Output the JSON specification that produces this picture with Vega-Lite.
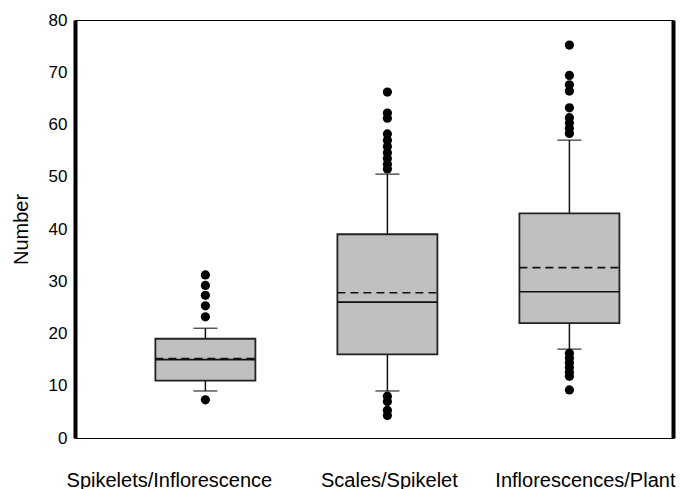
{
  "$schema": "https://vega.github.io/schema/vega-lite/v6.json",
  "width": 598,
  "height": 418,
  "autosize": {"type": "none"},
  "padding": {"left": 75, "top": 20, "right": 8, "bottom": 51},
  "background": "white",
  "config": {
    "font": "Liberation Sans",
    "view": {"stroke": "black", "strokeWidth": 1},
    "axis": {"grid": false, "ticks": false, "labelColor": "black", "titleColor": "black", "domainColor": "black"}
  },
  "datasets": {
    "boxes": [
      {"cat": "Spikelets/Inflorescence", "lower": 9, "q1": 11, "median": 15, "mean": 15.2, "q3": 19, "upper": 21},
      {"cat": "Scales/Spikelet", "lower": 9, "q1": 16, "median": 26, "mean": 27.8, "q3": 39, "upper": 50.5},
      {"cat": "Inflorescences/Plant", "lower": 17, "q1": 22, "median": 28, "mean": 32.6, "q3": 43, "upper": 57}
    ],
    "outliers": [
      {"cat": "Spikelets/Inflorescence", "value": 7.3},
      {"cat": "Spikelets/Inflorescence", "value": 23.2},
      {"cat": "Spikelets/Inflorescence", "value": 25.3},
      {"cat": "Spikelets/Inflorescence", "value": 27.3},
      {"cat": "Spikelets/Inflorescence", "value": 29.2},
      {"cat": "Spikelets/Inflorescence", "value": 31.2},
      {"cat": "Scales/Spikelet", "value": 8},
      {"cat": "Scales/Spikelet", "value": 7},
      {"cat": "Scales/Spikelet", "value": 5.3},
      {"cat": "Scales/Spikelet", "value": 4.3},
      {"cat": "Scales/Spikelet", "value": 51.5},
      {"cat": "Scales/Spikelet", "value": 52.4},
      {"cat": "Scales/Spikelet", "value": 53.5},
      {"cat": "Scales/Spikelet", "value": 54.6},
      {"cat": "Scales/Spikelet", "value": 55.8},
      {"cat": "Scales/Spikelet", "value": 57},
      {"cat": "Scales/Spikelet", "value": 58.2},
      {"cat": "Scales/Spikelet", "value": 61.2},
      {"cat": "Scales/Spikelet", "value": 62.2},
      {"cat": "Scales/Spikelet", "value": 66.2},
      {"cat": "Inflorescences/Plant", "value": 58.3},
      {"cat": "Inflorescences/Plant", "value": 59.3},
      {"cat": "Inflorescences/Plant", "value": 60.3},
      {"cat": "Inflorescences/Plant", "value": 61.3},
      {"cat": "Inflorescences/Plant", "value": 63.2},
      {"cat": "Inflorescences/Plant", "value": 66.4},
      {"cat": "Inflorescences/Plant", "value": 67.6},
      {"cat": "Inflorescences/Plant", "value": 69.4},
      {"cat": "Inflorescences/Plant", "value": 75.2},
      {"cat": "Inflorescences/Plant", "value": 16.2},
      {"cat": "Inflorescences/Plant", "value": 15.3},
      {"cat": "Inflorescences/Plant", "value": 14.4},
      {"cat": "Inflorescences/Plant", "value": 13.5},
      {"cat": "Inflorescences/Plant", "value": 12.6},
      {"cat": "Inflorescences/Plant", "value": 11.8},
      {"cat": "Inflorescences/Plant", "value": 9.2}
    ]
  },
  "encoding": {
    "x": {
      "field": "cat",
      "type": "nominal",
      "sort": ["Spikelets/Inflorescence", "Scales/Spikelet", "Inflorescences/Plant"],
      "scale": {"type": "band", "paddingInner": 0.4505, "paddingOuter": 0.368, "align": 0.6},
      "axis": {
        "title": null,
        "labelAngle": 0,
        "labelFontSize": 20,
        "labelPadding": 32,
        "domainWidth": 1,
        "labelLimit": 300,
        "labelOffset": {
          "condition": [
            {"test": "datum.value === 'Spikelets/Inflorescence'", "value": -36},
            {"test": "datum.value === 'Inflorescences/Plant'", "value": 16}
          ],
          "value": 2
        }
      }
    }
  },
  "layer": [
    {
      "data": {"name": "boxes"},
      "mark": {"type": "rule", "color": "#111", "strokeWidth": 1.5},
      "encoding": {
        "y": {
          "field": "lower",
          "type": "quantitative",
          "scale": {"domain": [0, 80], "nice": false},
          "axis": {"title": "Number", "titleFontSize": 20, "titleFontWeight": "normal", "titlePadding": 17, "labelFontSize": 17, "labelPadding": 8, "values": [0, 10, 20, 30, 40, 50, 60, 70, 80], "domainWidth": 4}
        },
        "y2": {"field": "upper"}
      }
    },
    {
      "data": {"name": "boxes"},
      "mark": {"type": "tick", "color": "#111", "size": 24, "thickness": 1.5},
      "encoding": {"y": {"field": "lower", "type": "quantitative", "axis": null}}
    },
    {
      "data": {"name": "boxes"},
      "mark": {"type": "tick", "color": "#111", "size": 24, "thickness": 1.5},
      "encoding": {"y": {"field": "upper", "type": "quantitative", "axis": null}}
    },
    {
      "data": {"name": "boxes"},
      "mark": {"type": "bar", "fill": "#c0c0c0", "stroke": "#222", "strokeWidth": 1.8},
      "encoding": {
        "y": {"field": "q1", "type": "quantitative", "axis": null},
        "y2": {"field": "q3"}
      }
    },
    {
      "data": {"name": "boxes"},
      "mark": {"type": "rule", "color": "#111", "strokeWidth": 1.6},
      "encoding": {
        "x": {"field": "cat", "type": "nominal", "sort": ["Spikelets/Inflorescence", "Scales/Spikelet", "Inflorescences/Plant"], "bandPosition": 0},
        "x2": {"field": "cat", "bandPosition": 1},
        "y": {"field": "median", "type": "quantitative", "axis": null}
      }
    },
    {
      "data": {"name": "boxes"},
      "mark": {"type": "rule", "color": "#111", "strokeWidth": 1.6, "strokeDash": [8, 5]},
      "encoding": {
        "x": {"field": "cat", "type": "nominal", "sort": ["Spikelets/Inflorescence", "Scales/Spikelet", "Inflorescences/Plant"], "bandPosition": 0},
        "x2": {"field": "cat", "bandPosition": 1},
        "y": {"field": "mean", "type": "quantitative", "axis": null}
      }
    },
    {
      "data": {"name": "outliers"},
      "mark": {"type": "circle", "color": "black", "opacity": 1, "size": 85},
      "encoding": {
        "y": {
          "field": "value",
          "type": "quantitative",
          "axis": {"orient": "right", "labels": false, "title": null, "domainWidth": 4, "ticks": false}
        }
      }
    }
  ],
  "resolve": {"axis": {"y": "independent"}}
}
